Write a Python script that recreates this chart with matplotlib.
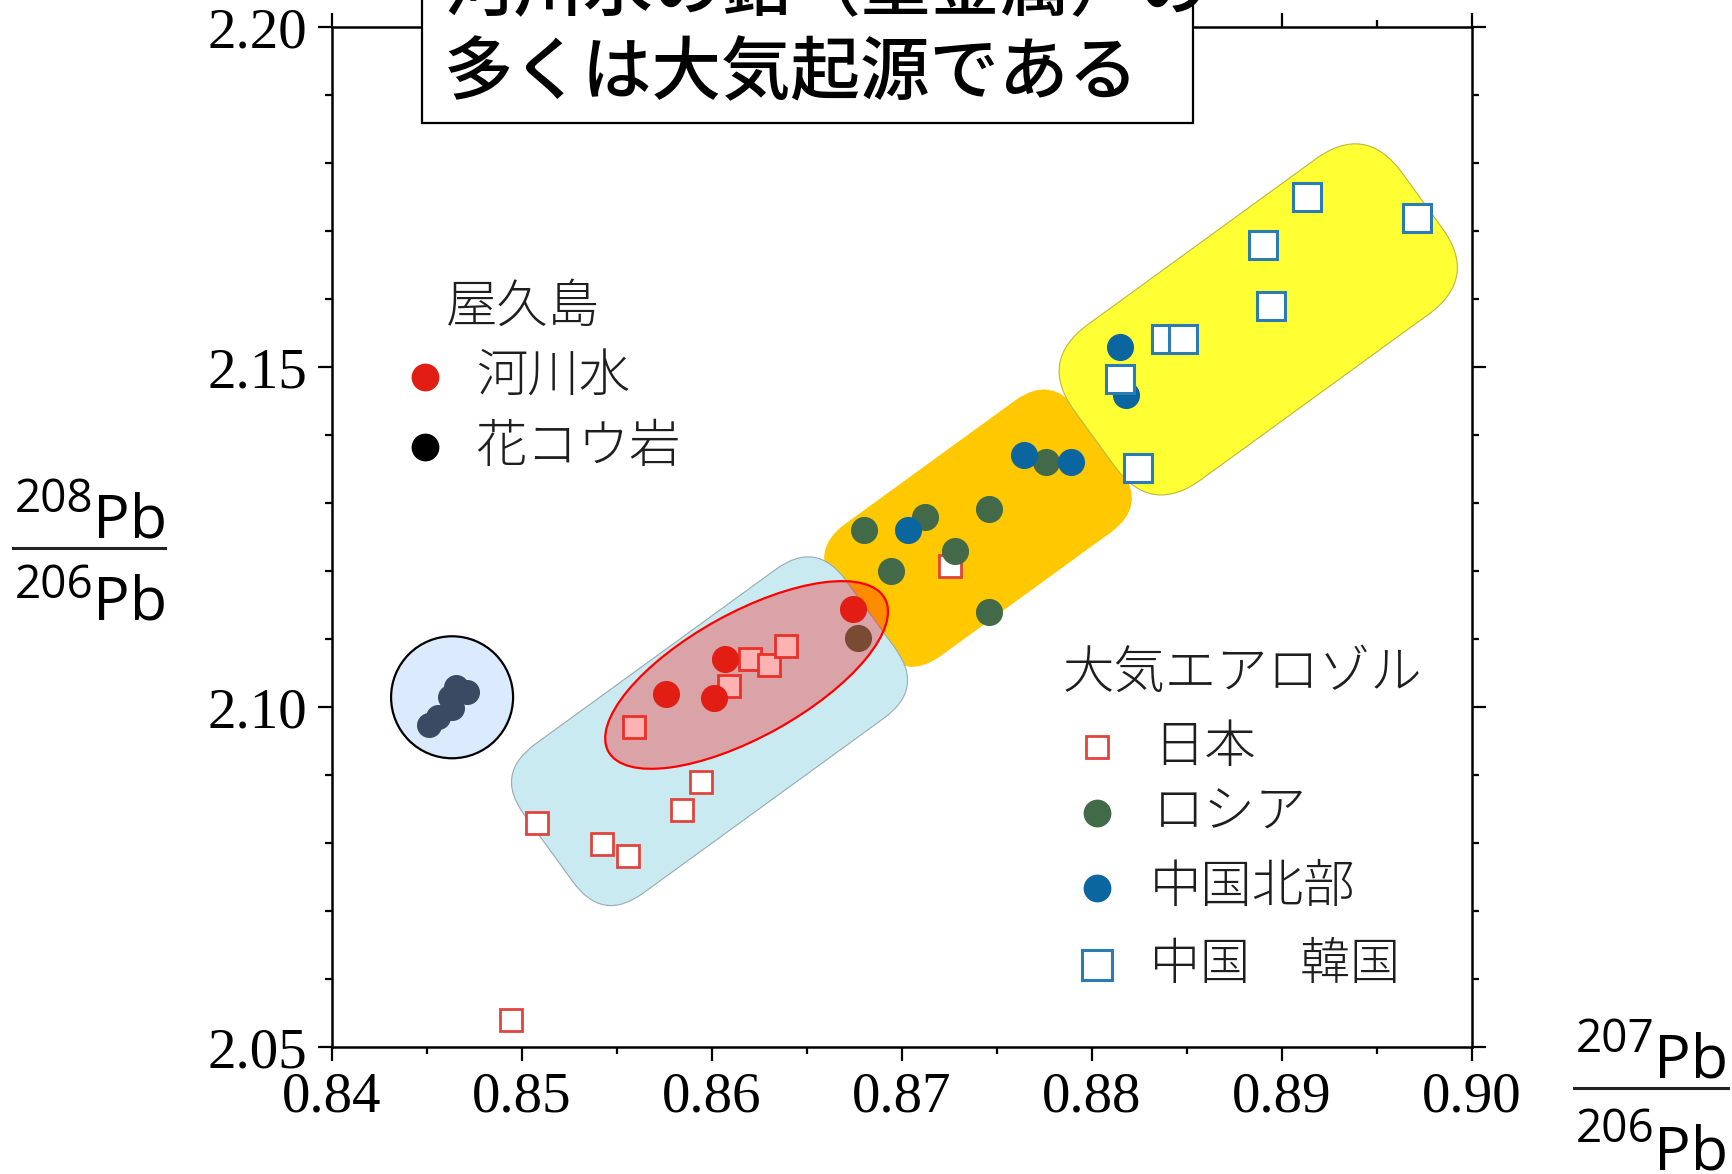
import matplotlib
matplotlib.use('Agg')
import matplotlib.pyplot as plt
from matplotlib.patches import FancyBboxPatch, Ellipse, Circle, Rectangle
from matplotlib.transforms import Affine2D, ScaledTranslation
from matplotlib.lines import Line2D
from matplotlib.ticker import MultipleLocator, FormatStrFormatter

plt.rcParams['font.family'] = ['Noto Sans CJK JP', 'DejaVu Sans']

# 屋久島
river_x = [0.8576, 0.8601, 0.8607, 0.8674]
river_y = [2.1019, 2.1013, 2.1071, 2.1144]
granite_x = [0.8451, 0.8456, 0.8463, 0.8465, 0.8471, 0.8462]
granite_y = [2.0973, 2.0986, 2.0998, 2.1030, 2.1022, 2.1015]

# 大気エアロゾル
japan_x = [0.8494, 0.8508, 0.8542, 0.8556, 0.8559, 0.8584, 0.8594, 0.8609, 0.8620, 0.8630, 0.8639, 0.8725]
japan_y = [2.0539, 2.0829, 2.0798, 2.0781, 2.0971, 2.0849, 2.0889, 2.1031, 2.1071, 2.1062, 2.1089, 2.1207]
russia_x = [0.8680, 0.8712, 0.8694, 0.8746, 0.8728, 0.8746, 0.8677, 0.8776]
russia_y = [2.1260, 2.1279, 2.1200, 2.1291, 2.1230, 2.1139, 2.1101, 2.1361]
china_n_x = [0.8703, 0.8764, 0.8789, 0.8815, 0.8818]
china_n_y = [2.1260, 2.1370, 2.1361, 2.1529, 2.1459]
china_kr_x = [0.8815, 0.8913, 0.8971, 0.8890, 0.8894, 0.8839, 0.8848, 0.8824]
china_kr_y = [2.1482, 2.1750, 2.1719, 2.1679, 2.1589, 2.1541, 2.1541, 2.1351]

x_ticks = [0.84, 0.85, 0.86, 0.87, 0.88, 0.89, 0.90]
y_ticks = [2.05, 2.10, 2.15, 2.20]

title_lines = ['河川水の鉛（重金属）の', '多くは大気起源である']

W, H = 1733, 1174
RED = '#e21e14'
GREEN = '#436a48'
BLUE = '#0b66a0'
JP_EDGE = '#e0453c'
KR_EDGE = '#2b7bb5'
TXT = '#1e1e1e'
SERIF = 'Liberation Serif'
PB_FONT = 'Open Sans'


def fx(px):
    return px / W


def fy(py):
    return 1 - py / H


def region(ax, center, length, thick, angle, radius, face, edge, z):
    # rounded band drawn in pixel units, centred on a data point
    patch = FancyBboxPatch((-length / 2, -thick / 2), length, thick,
        boxstyle = f'round,pad=0,rounding_size={radius}',
        facecolor = face, edgecolor = edge, linewidth = 0.8, zorder = z)
    patch.set_transform(Affine2D().rotate_deg(angle) + ScaledTranslation(center[0], center[1], ax.transData))
    ax.add_patch(patch)


def pb_fraction(fig, left, top_num, top_pb, line_y, line_x1, bot_num, bot_pb, upper):
    fig.text(fx(left), fy(top_num), upper, fontsize = 33, family = PB_FONT, va = 'baseline')
    fig.text(fx(left + 78), fy(top_pb), 'Pb', fontsize = 44, family = PB_FONT, va = 'baseline')
    fig.add_artist(Line2D([fx(left - 2), fx(line_x1)], [fy(line_y), fy(line_y)], color = '#222222', linewidth = 2.2))
    fig.text(fx(left), fy(bot_num), '206', fontsize = 33, family = PB_FONT, va = 'baseline')
    fig.text(fx(left + 78), fy(bot_pb), 'Pb', fontsize = 44, family = PB_FONT, va = 'baseline')


def legend_text(ax, pos, s, size = 37):
    ax.text(*pos, s, transform = ax.transAxes, fontsize = size, va = 'center', ha = 'left',
        color = TXT, fontweight = 'light')


fig = plt.figure(figsize = (W / 100, H / 100), dpi = 100)
ax = fig.add_axes([332 / W, (H - 1047) / H, 1140 / W, 1020 / H])

ax.set_xlim(0.84, 0.90)
ax.set_ylim(2.05, 2.20)

# shaded source regions
region(ax, (0.87400, 2.12630), 300, 163, 36, 45, '#ffc800', 'none', 1)
region(ax, (0.88875, 2.15700), 405, 192, 36, 62, '#ffff33', '#b8b840', 2)
region(ax, (0.85987, 2.09644), 398, 184, 36, 50, '#c9eaf0', '#98abb0', 2)

granite_circle = Circle((0, 0), 61, facecolor = '#dbeafd', edgecolor = 'black', linewidth = 1.6, zorder = 3)
granite_circle.set_transform(ScaledTranslation(0.84632, 2.10143, ax.transData))
ax.add_patch(granite_circle)

ax.plot(granite_x, granite_y, 'o', color = '#3a4a62', markersize = 17, zorder = 4)
ax.plot(japan_x, japan_y, 's', markerfacecolor = 'white', markeredgecolor = JP_EDGE,
    markeredgewidth = 2, markersize = 16, zorder = 4)
ax.plot(russia_x, russia_y, 'o', color = GREEN, markersize = 18.5, zorder = 5)
ax.plot(china_n_x, china_n_y, 'o', color = BLUE, markersize = 18.5, zorder = 6)
ax.plot(china_kr_x, china_kr_y, 's', markerfacecolor = 'white', markeredgecolor = KR_EDGE,
    markeredgewidth = 2.2, markersize = 20, zorder = 7)

# red ellipse around the river water samples
ell = Ellipse((0, 0), 316, 124, angle = 29, facecolor = (1, 0, 0, 0.3), edgecolor = 'red', linewidth = 1.6, zorder = 8)
ell.set_transform(ScaledTranslation(0.86182, 2.10471, ax.transData))
ax.add_patch(ell)

ax.plot(river_x, river_y, 'o', color = RED, markersize = 18.5, zorder = 9)

# axes styling
ax.xaxis.set_minor_locator(MultipleLocator(0.005))
ax.yaxis.set_minor_locator(MultipleLocator(0.01))
ax.set_xticks(x_ticks)
ax.set_yticks(y_ticks)
ax.xaxis.set_major_formatter(FormatStrFormatter('%.2f'))
ax.yaxis.set_major_formatter(FormatStrFormatter('%.2f'))
ax.tick_params(which = 'both', direction = 'out', top = True, right = True, width = 1.6, colors = 'black')
ax.tick_params(which = 'major', length = 10, pad = 8, labelsize = 41)
ax.tick_params(which = 'minor', length = 5)
for lab in ax.get_xticklabels() + ax.get_yticklabels():
    lab.set_family(SERIF)
for sp in ax.spines.values():
    sp.set_linewidth(1.8)

# legends
def ax_pt(px, py):
    return ((px - 332) / 1140, (1047 - py) / 1020)

tx = ax.transAxes
legend_text(ax, ax_pt(446, 307), '屋久島')
ax.plot(*ax_pt(425, 377), 'o', transform = tx, color = RED, markersize = 19, clip_on = False)
legend_text(ax, ax_pt(476, 377), '河川水')
ax.plot(*ax_pt(425, 447), 'o', transform = tx, color = 'black', markersize = 19, clip_on = False)
legend_text(ax, ax_pt(475, 447), '花コウ岩')

legend_text(ax, ax_pt(1063, 673), '大気エアロゾル')
ax.plot(*ax_pt(1097, 747), 's', transform = tx, markerfacecolor = 'white', markeredgecolor = JP_EDGE,
    markeredgewidth = 2, markersize = 16, clip_on = False)
legend_text(ax, ax_pt(1153, 747), '日本')
ax.plot(*ax_pt(1097, 813), 'o', transform = tx, color = GREEN, markersize = 19, clip_on = False)
legend_text(ax, ax_pt(1153, 813), 'ロシア')
ax.plot(*ax_pt(1097, 888), 'o', transform = tx, color = BLUE, markersize = 19, clip_on = False)
legend_text(ax, ax_pt(1150, 888), '中国北部')
ax.plot(*ax_pt(1097, 965), 's', transform = tx, markerfacecolor = 'white', markeredgecolor = KR_EDGE,
    markeredgewidth = 2.2, markersize = 21, clip_on = False)
legend_text(ax, ax_pt(1150, 965), '中国\u3000韓国', size = 36)

# isotope ratio axis labels
pb_fraction(fig, 15, 512, 537, 547.7, 165, 598, 620, '208')
pb_fraction(fig, 1576, 1052, 1078, 1088, 1728, 1142, 1170, '207')

# message box at the top, partly outside the figure
box = Rectangle((fx(422), fy(123)), fx(1193) - fx(422), 0.2, transform = fig.transFigure,
    facecolor = 'white', edgecolor = 'black', linewidth = 1.6, zorder = 5)
fig.add_artist(box)
fig.text(fx(444), fy(10), title_lines[0], fontsize = 50, va = 'baseline', ha = 'left', zorder = 6, fontweight = 'medium')
fig.text(fx(444), fy(94), title_lines[1], fontsize = 50, va = 'baseline', ha = 'left', zorder = 6, fontweight = 'medium')

fig.savefig('out.png', dpi = 100)
